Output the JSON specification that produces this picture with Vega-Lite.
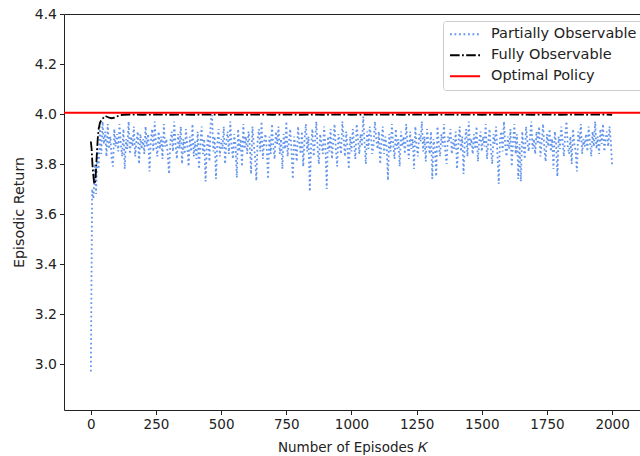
{
  "$schema": "https://vega.github.io/schema/vega-lite/v6.json",
  "width": 576,
  "height": 396,
  "autosize": {"type": "none"},
  "padding": {"left": 64, "top": 14, "right": 0, "bottom": 46},
  "background": "white",
  "datasets": {
    "partial": [
      {"k":0,"v":2.97},{"k":5,"v":3.70},{"k":10,"v":3.66},{"k":15,"v":3.80},{"k":20,"v":3.68},{"k":25,"v":3.86},{"k":30,"v":3.78},{"k":35,"v":3.95},{"k":40,"v":3.84},{"k":45,"v":3.97},{"k":50,"v":3.88},{"k":55,"v":3.93},{"k":60,"v":3.83},{"k":65,"v":3.96},{"k":70,"v":3.86},{"k":75,"v":3.91},{"k":80,"v":3.82},{"k":85,"v":3.79},{"k":90,"v":3.94},{"k":95,"v":3.87},
      {"k":100,"v":3.92},{"k":105,"v":3.85},{"k":110,"v":3.96},{"k":115,"v":3.88},{"k":120,"v":3.83},{"k":125,"v":3.94},{"k":130,"v":3.78},{"k":135,"v":3.90},{"k":140,"v":3.86},{"k":145,"v":3.97},{"k":150,"v":3.84},{"k":155,"v":3.91},{"k":160,"v":3.87},{"k":165,"v":3.95},{"k":170,"v":3.83},{"k":175,"v":3.89},{"k":180,"v":3.93},{"k":185,"v":3.80},{"k":190,"v":3.92},{"k":195,"v":3.86},
      {"k":200,"v":3.90},{"k":205,"v":3.84},{"k":210,"v":3.95},{"k":215,"v":3.87},{"k":220,"v":3.92},{"k":225,"v":3.77},{"k":230,"v":3.89},{"k":235,"v":3.94},{"k":240,"v":3.85},{"k":245,"v":3.97},{"k":250,"v":3.88},{"k":255,"v":3.83},{"k":260,"v":3.93},{"k":265,"v":3.86},{"k":270,"v":3.91},{"k":275,"v":3.82},{"k":280,"v":3.96},{"k":285,"v":3.87},{"k":290,"v":3.90},{"k":295,"v":3.84},
      {"k":300,"v":3.76},{"k":305,"v":3.89},{"k":310,"v":3.93},{"k":315,"v":3.85},{"k":320,"v":3.97},{"k":325,"v":3.88},{"k":330,"v":3.82},{"k":335,"v":3.92},{"k":340,"v":3.86},{"k":345,"v":3.95},{"k":350,"v":3.80},{"k":355,"v":3.90},{"k":360,"v":3.84},{"k":365,"v":3.94},{"k":370,"v":3.87},{"k":375,"v":3.79},{"k":380,"v":3.91},{"k":385,"v":3.85},{"k":390,"v":3.96},{"k":395,"v":3.83},
      {"k":400,"v":3.89},{"k":405,"v":3.82},{"k":410,"v":3.93},{"k":415,"v":3.78},{"k":420,"v":3.88},{"k":425,"v":3.95},{"k":430,"v":3.84},{"k":435,"v":3.90},{"k":440,"v":3.73},{"k":445,"v":3.86},{"k":450,"v":3.92},{"k":455,"v":3.81},{"k":460,"v":3.97},{"k":465,"v":3.996},{"k":470,"v":3.85},{"k":475,"v":3.91},{"k":480,"v":3.74},{"k":485,"v":3.88},{"k":490,"v":3.94},{"k":495,"v":3.83},
      {"k":500,"v":3.90},{"k":505,"v":3.86},{"k":510,"v":3.95},{"k":515,"v":3.80},{"k":520,"v":3.89},{"k":525,"v":3.93},{"k":530,"v":3.84},{"k":535,"v":3.97},{"k":540,"v":3.87},{"k":545,"v":3.82},{"k":550,"v":3.92},{"k":555,"v":3.88},{"k":560,"v":3.745},{"k":565,"v":3.94},{"k":570,"v":3.85},{"k":575,"v":3.90},{"k":580,"v":3.79},{"k":585,"v":3.96},{"k":590,"v":3.86},{"k":595,"v":3.91},
      {"k":600,"v":3.84},{"k":605,"v":3.93},{"k":610,"v":3.87},{"k":615,"v":3.76},{"k":620,"v":3.95},{"k":625,"v":3.88},{"k":630,"v":3.83},{"k":635,"v":3.733},{"k":640,"v":3.90},{"k":645,"v":3.94},{"k":650,"v":3.85},{"k":655,"v":3.97},{"k":660,"v":3.82},{"k":665,"v":3.89},{"k":670,"v":3.92},{"k":675,"v":3.86},{"k":680,"v":3.74},{"k":685,"v":3.91},{"k":690,"v":3.84},{"k":695,"v":3.96},
      {"k":700,"v":3.87},{"k":705,"v":3.82},{"k":710,"v":3.93},{"k":715,"v":3.88},{"k":720,"v":3.95},{"k":725,"v":3.84},{"k":730,"v":3.90},{"k":735,"v":3.78},{"k":740,"v":3.92},{"k":745,"v":3.86},{"k":750,"v":3.97},{"k":755,"v":3.83},{"k":760,"v":3.89},{"k":765,"v":3.94},{"k":770,"v":3.85},{"k":775,"v":3.74},{"k":780,"v":3.91},{"k":785,"v":3.87},{"k":790,"v":3.81},{"k":795,"v":3.95},
      {"k":800,"v":3.88},{"k":805,"v":3.84},{"k":810,"v":3.93},{"k":815,"v":3.79},{"k":820,"v":3.90},{"k":825,"v":3.96},{"k":830,"v":3.85},{"k":835,"v":3.91},{"k":840,"v":3.69},{"k":845,"v":3.87},{"k":850,"v":3.94},{"k":855,"v":3.83},{"k":860,"v":3.89},{"k":865,"v":3.97},{"k":870,"v":3.86},{"k":875,"v":3.80},{"k":880,"v":3.92},{"k":885,"v":3.88},{"k":890,"v":3.84},{"k":895,"v":3.95},
      {"k":900,"v":3.87},{"k":905,"v":3.70},{"k":910,"v":3.91},{"k":915,"v":3.85},{"k":920,"v":3.94},{"k":925,"v":3.82},{"k":930,"v":3.89},{"k":935,"v":3.96},{"k":940,"v":3.86},{"k":945,"v":3.79},{"k":950,"v":3.92},{"k":955,"v":3.88},{"k":960,"v":3.84},{"k":965,"v":3.97},{"k":970,"v":3.90},{"k":975,"v":3.83},{"k":980,"v":3.93},{"k":985,"v":3.86},{"k":990,"v":3.78},{"k":995,"v":3.91},
      {"k":1000,"v":3.85},{"k":1005,"v":3.94},{"k":1010,"v":3.88},{"k":1015,"v":3.82},{"k":1020,"v":3.96},{"k":1025,"v":3.90},{"k":1030,"v":3.84},{"k":1035,"v":3.92},{"k":1040,"v":3.87},{"k":1045,"v":3.99},{"k":1050,"v":3.89},{"k":1055,"v":3.80},{"k":1060,"v":3.93},{"k":1065,"v":3.86},{"k":1070,"v":3.95},{"k":1075,"v":3.91},{"k":1080,"v":3.84},{"k":1085,"v":3.88},{"k":1090,"v":3.97},{"k":1095,"v":3.90},
      {"k":1100,"v":3.86},{"k":1105,"v":3.93},{"k":1110,"v":3.80},{"k":1115,"v":3.89},{"k":1120,"v":3.95},{"k":1125,"v":3.84},{"k":1130,"v":3.91},{"k":1135,"v":3.87},{"k":1140,"v":3.735},{"k":1145,"v":3.92},{"k":1150,"v":3.85},{"k":1155,"v":3.96},{"k":1160,"v":3.88},{"k":1165,"v":3.82},{"k":1170,"v":3.94},{"k":1175,"v":3.86},{"k":1180,"v":3.90},{"k":1185,"v":3.79},{"k":1190,"v":3.93},{"k":1195,"v":3.87},
      {"k":1200,"v":3.91},{"k":1205,"v":3.84},{"k":1210,"v":3.96},{"k":1215,"v":3.88},{"k":1220,"v":3.82},{"k":1225,"v":3.93},{"k":1230,"v":3.86},{"k":1235,"v":3.90},{"k":1240,"v":3.78},{"k":1245,"v":3.95},{"k":1250,"v":3.87},{"k":1255,"v":3.83},{"k":1260,"v":3.92},{"k":1265,"v":3.89},{"k":1270,"v":3.97},{"k":1275,"v":3.85},{"k":1280,"v":3.91},{"k":1285,"v":3.81},{"k":1290,"v":3.94},{"k":1295,"v":3.88},
      {"k":1300,"v":3.84},{"k":1305,"v":3.93},{"k":1310,"v":3.74},{"k":1315,"v":3.90},{"k":1320,"v":3.86},{"k":1325,"v":3.75},{"k":1330,"v":3.95},{"k":1335,"v":3.88},{"k":1340,"v":3.83},{"k":1345,"v":3.92},{"k":1350,"v":3.87},{"k":1355,"v":3.96},{"k":1360,"v":3.85},{"k":1365,"v":3.80},{"k":1370,"v":3.91},{"k":1375,"v":3.89},{"k":1380,"v":3.94},{"k":1385,"v":3.84},{"k":1390,"v":3.90},{"k":1395,"v":3.86},
      {"k":1400,"v":3.93},{"k":1405,"v":3.78},{"k":1410,"v":3.88},{"k":1415,"v":3.95},{"k":1420,"v":3.85},{"k":1425,"v":3.91},{"k":1430,"v":3.76},{"k":1435,"v":3.89},{"k":1440,"v":3.94},{"k":1445,"v":3.83},{"k":1450,"v":3.97},{"k":1455,"v":3.87},{"k":1460,"v":3.90},{"k":1465,"v":3.84},{"k":1470,"v":3.92},{"k":1475,"v":3.86},{"k":1480,"v":3.95},{"k":1485,"v":3.81},{"k":1490,"v":3.89},{"k":1495,"v":3.93},
      {"k":1500,"v":3.85},{"k":1505,"v":3.91},{"k":1510,"v":3.87},{"k":1515,"v":3.96},{"k":1520,"v":3.82},{"k":1525,"v":3.89},{"k":1530,"v":3.94},{"k":1535,"v":3.86},{"k":1540,"v":3.80},{"k":1545,"v":3.92},{"k":1550,"v":3.88},{"k":1555,"v":3.95},{"k":1560,"v":3.84},{"k":1565,"v":3.72},{"k":1570,"v":3.90},{"k":1575,"v":3.93},{"k":1580,"v":3.85},{"k":1585,"v":3.97},{"k":1590,"v":3.87},{"k":1595,"v":3.83},
      {"k":1600,"v":3.91},{"k":1605,"v":3.86},{"k":1610,"v":3.94},{"k":1615,"v":3.79},{"k":1620,"v":3.89},{"k":1625,"v":3.96},{"k":1630,"v":3.84},{"k":1635,"v":3.92},{"k":1640,"v":3.74},{"k":1645,"v":3.88},{"k":1650,"v":3.73},{"k":1655,"v":3.93},{"k":1660,"v":3.87},{"k":1665,"v":3.82},{"k":1670,"v":3.95},{"k":1675,"v":3.89},{"k":1680,"v":3.85},{"k":1685,"v":3.91},{"k":1690,"v":3.97},{"k":1695,"v":3.86},
      {"k":1700,"v":3.90},{"k":1705,"v":3.84},{"k":1710,"v":3.93},{"k":1715,"v":3.88},{"k":1720,"v":3.95},{"k":1725,"v":3.83},{"k":1730,"v":3.89},{"k":1735,"v":3.96},{"k":1740,"v":3.86},{"k":1745,"v":3.81},{"k":1750,"v":3.92},{"k":1755,"v":3.87},{"k":1760,"v":3.94},{"k":1765,"v":3.85},{"k":1770,"v":3.90},{"k":1775,"v":3.78},{"k":1780,"v":3.93},{"k":1785,"v":3.88},{"k":1790,"v":3.75},{"k":1795,"v":3.91},
      {"k":1800,"v":3.86},{"k":1805,"v":3.95},{"k":1810,"v":3.89},{"k":1815,"v":3.83},{"k":1820,"v":3.92},{"k":1825,"v":3.97},{"k":1830,"v":3.87},{"k":1835,"v":3.84},{"k":1840,"v":3.91},{"k":1845,"v":3.80},{"k":1850,"v":3.94},{"k":1855,"v":3.88},{"k":1860,"v":3.85},{"k":1865,"v":3.77},{"k":1870,"v":3.93},{"k":1875,"v":3.89},{"k":1880,"v":3.96},{"k":1885,"v":3.84},{"k":1890,"v":3.90},{"k":1895,"v":3.87},
      {"k":1900,"v":3.92},{"k":1905,"v":3.85},{"k":1910,"v":3.95},{"k":1915,"v":3.89},{"k":1920,"v":3.83},{"k":1925,"v":3.93},{"k":1930,"v":3.87},{"k":1935,"v":3.97},{"k":1940,"v":3.86},{"k":1945,"v":3.91},{"k":1950,"v":3.84},{"k":1955,"v":3.94},{"k":1960,"v":3.88},{"k":1965,"v":3.96},{"k":1970,"v":3.85},{"k":1975,"v":3.90},{"k":1980,"v":3.93},{"k":1985,"v":3.87},{"k":1990,"v":3.95},{"k":1995,"v":3.89},
      {"k":2000,"v":3.79}
    ],
    "full": [
      {"k":0,"v":3.89},{"k":3,"v":3.86},{"k":6,"v":3.80},{"k":9,"v":3.76},{"k":12,"v":3.73},{"k":15,"v":3.72},{"k":18,"v":3.74},{"k":21,"v":3.80},{"k":24,"v":3.86},{"k":27,"v":3.91},{"k":30,"v":3.94},{"k":35,"v":3.965},{"k":40,"v":3.975},{"k":45,"v":3.98},{"k":50,"v":3.988},{"k":55,"v":3.992},{"k":60,"v":3.99},{"k":70,"v":3.985},{"k":80,"v":3.983},{"k":90,"v":3.985},{"k":100,"v":3.99},{"k":110,"v":3.995},{"k":125,"v":3.997},{"k":150,"v":3.998},
      {"k":200,"v":3.997},{"k":250,"v":3.998},{"k":300,"v":3.997},{"k":350,"v":3.998},{"k":400,"v":3.997},{"k":450,"v":3.998},{"k":500,"v":3.997},{"k":550,"v":3.998},{"k":600,"v":3.997},{"k":650,"v":3.998},{"k":700,"v":3.997},{"k":750,"v":3.998},{"k":800,"v":3.997},{"k":850,"v":3.998},{"k":900,"v":3.997},{"k":950,"v":3.998},{"k":1000,"v":3.997},{"k":1050,"v":3.998},{"k":1100,"v":3.997},{"k":1150,"v":3.998},{"k":1200,"v":3.997},{"k":1250,"v":3.998},{"k":1300,"v":3.997},{"k":1350,"v":3.998},{"k":1400,"v":3.997},{"k":1450,"v":3.998},{"k":1500,"v":3.997},{"k":1550,"v":3.998},{"k":1600,"v":3.997},{"k":1650,"v":3.998},{"k":1700,"v":3.997},{"k":1750,"v":3.998},{"k":1800,"v":3.997},{"k":1850,"v":3.998},{"k":1900,"v":3.997},{"k":1950,"v":3.998},{"k":2000,"v":3.997}
    ],
    "optimal": [{"v": 4.005}]
  },
  "layer": [
    {
      "data": {"name": "partial"},
      "mark": {"type": "line", "strokeWidth": 1.8, "clip": true},
      "encoding": {
        "x": {
          "field": "k", "type": "quantitative",
          "scale": {"domain": [-103, 2107], "nice": false, "zero": false},
          "axis": {"values": [0, 250, 500, 750, 1000, 1250, 1500, 1750, 2000], "format": "d", "title": "Number of Episodes 𝐾", "titlePadding": 9, "labelFontSize": 13.5, "titleFontSize": 13.5}
        },
        "y": {
          "field": "v", "type": "quantitative",
          "scale": {"domain": [2.816, 4.4], "nice": false, "zero": false},
          "axis": {"values": [3.0, 3.2, 3.4, 3.6, 3.8, 4.0, 4.2, 4.4], "format": ".1f", "title": "Episodic Return", "titlePadding": 8, "labelFontSize": 14, "titleFontSize": 14.3}
        },
        "color": {
          "datum": "Partially Observable",
          "type": "nominal",
          "scale": {"domain": ["Partially Observable", "Fully Observable", "Optimal Policy"], "range": ["#6495ED", "#000000", "#ff0000"]},
          "legend": {"orient": "none", "legendX": 379, "legendY": 7, "title": null}
        },
        "strokeDash": {
          "datum": "Partially Observable",
          "type": "nominal",
          "scale": {"domain": ["Partially Observable", "Fully Observable", "Optimal Policy"], "range": [[1.8, 2.7], [9.6, 2.4, 1.8, 2.4], [1, 0]]},
          "legend": {"orient": "none", "legendX": 379, "legendY": 7, "title": null}
        }
      }
    },
    {
      "data": {"name": "full"},
      "mark": {"type": "line", "strokeWidth": 1.8, "clip": true},
      "encoding": {
        "x": {"field": "k", "type": "quantitative"},
        "y": {"field": "v", "type": "quantitative"},
        "color": {"datum": "Fully Observable", "type": "nominal"},
        "strokeDash": {"datum": "Fully Observable", "type": "nominal"}
      }
    },
    {
      "data": {"name": "optimal"},
      "mark": {"type": "rule", "strokeWidth": 2},
      "encoding": {
        "y": {"field": "v", "type": "quantitative"},
        "color": {"datum": "Optimal Policy", "type": "nominal"},
        "strokeDash": {"datum": "Optimal Policy", "type": "nominal"}
      }
    }
  ],
  "config": {
    "font": "DejaVu Sans",
    "view": {"stroke": "#222222", "strokeWidth": 1},
    "axis": {
      "grid": false,
      "domain": false,
      "tickColor": "#222222",
      "tickSize": 4.5,
      "tickWidth": 1,
      "labelFont": "DejaVu Sans",
      "labelColor": "#222222",
      "labelPadding": 3,
      "titleFont": "DejaVu Sans",
      "titleFontWeight": "normal",
      "titleColor": "#222222"
    },
    "legend": {
      "fillColor": "white",
      "strokeColor": "#cccccc",
      "cornerRadius": 3,
      "padding": 6,
      "labelFont": "DejaVu Sans",
      "labelFontSize": 14.5,
      "labelColor": "#222222",
      "symbolType": "stroke",
      "symbolSize": 900,
      "symbolStrokeWidth": 1.8,
      "clipHeight": 14.5,
      "rowPadding": 5,
      "labelOffset": 10
    }
  }
}
